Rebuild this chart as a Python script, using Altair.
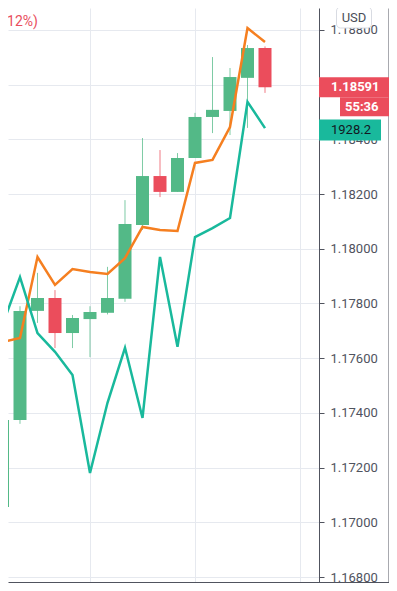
import altair as alt
import pandas as pd

# ---- data ----
bar_index = list(range(16))
opens  = [1.17056, 1.17374, 1.17773, 1.17820, 1.17692, 1.17743, 1.17766, 1.17817,
          1.18087, 1.18266, 1.18208, 1.18332, 1.18482, 1.18504, 1.18625, 1.18734]
closes = [1.17374, 1.17773, 1.17820, 1.17692, 1.17747, 1.17769, 1.17820, 1.18091,
          1.18266, 1.18208, 1.18332, 1.18482, 1.18508, 1.18628, 1.18734, 1.18591]
highs  = [1.17418, 1.17790, 1.17912, 1.17849, 1.17758, 1.17790, 1.17934, 1.18178,
          1.18405, 1.18361, 1.18350, 1.18497, 1.18701, 1.18661, 1.18745, 1.18740]
lows   = [1.17030, 1.17360, 1.17729, 1.17637, 1.17637, 1.17604, 1.17760, 1.17806,
          1.18069, 1.18189, 1.18208, 1.18332, 1.18423, 1.18416, 1.18442, 1.18570]
orange_series = [1.17659, 1.17674, 1.17970, 1.17868, 1.17926, 1.17915, 1.17908, 1.17966,
                 1.18080, 1.18069, 1.18065, 1.18314, 1.18325, 1.18445, 1.18807, 1.18756]
gold_series = [1889.2, 1898.7, 1887.6, 1883.9, 1879.3, 1859.9, 1873.8, 1884.7,
               1870.8, 1902.7, 1884.9, 1906.6, 1908.4, 1910.4, 1933.4, 1928.2]

price_ticks = [1.168, 1.170, 1.172, 1.174, 1.176, 1.178, 1.180, 1.182, 1.184, 1.186, 1.188]
gold_ticks = [1840, 1850, 1860, 1870, 1880, 1890, 1900, 1910, 1920, 1930, 1940, 1950]
time_ticks = [5, 11, 17]

last_price_text = "1.18591"
countdown_text = "55:36"
gold_text = "1928.2"
change_text = "(\u22120.12%)"
currency_text = "USD"

# ---- styling ----
GREEN = "#53b987"
RED = "#eb4d5c"
ORANGE = "#f57f20"
TEAL = "#19b99c"
AX = "#50535e"
GRID = "#e6e9ef"
FONT = "Roboto"

X_DOMAIN = [0.3143, 18.0857]
P_DOMAIN = [1.1678172, 1.188804]
G_DOMAIN = [1838.32, 1951.98]

df = pd.DataFrame({
    "i": bar_index, "open": opens, "close": closes, "high": highs, "low": lows,
    "orange": orange_series, "gold": gold_series,
})
df["dir"] = ["up" if c >= o else "down" for o, c in zip(opens, closes)]

xscale = alt.Scale(domain=X_DOMAIN, nice=False, zero=False, padding=0)
xaxis = alt.Axis(orient="bottom", values=time_ticks, title=None, labels=False,
                 tickSize=5, tickColor=AX, domainColor=AX, grid=True, gridColor=GRID)
pscale = alt.Scale(domain=P_DOMAIN, nice=False, zero=False, padding=0)
paxis = alt.Axis(orient="right", values=price_ticks, format=".5f", title=None,
                 tickSize=5, tickColor=AX, domainColor=AX, labelPadding=6,
                 labelColor=AX, labelFont=FONT, labelFontSize=13,
                 grid=True, gridColor=GRID)
gscale = alt.Scale(domain=G_DOMAIN, nice=False, zero=False, padding=0)
gaxis = alt.Axis(orient="right", offset=69.5, values=gold_ticks, title=None, labels=False,
                 tickSize=7, tickColor=AX, domainColor=AX, grid=False)

def X(field="i:Q"):
    return alt.X(field, scale=xscale, axis=xaxis)

def PY(field):
    return alt.Y(field, type="quantitative", scale=pscale, axis=paxis)

color = alt.Color("dir:N", scale=alt.Scale(domain=["up", "down"], range=[GREEN, RED]), legend=None)

base = alt.Chart(df)
wicks = base.mark_rule(strokeWidth=1, opacity=0.75, clip=True).encode(
    x=X(), y=PY("high"), y2="low", color=color)
bodies = base.mark_bar(size=13, clip=True).encode(
    x=X(), y=PY("open"), y2="close", color=color)
orange_line = base.mark_line(color=ORANGE, strokeWidth=2.5, clip=True).encode(
    x=X(), y=PY("orange"))

lbl = pd.DataFrame({"price": [closes[-1]], "txt": [last_price_text], "cd": [countdown_text]})
lbl_base = alt.Chart(lbl)
price_box = lbl_base.mark_tick(orient="horizontal", size=70, thickness=20, color=RED,
                               opacity=1, clip=False).encode(x=alt.value(346), y=PY("price"))
price_txt = lbl_base.mark_text(align="left", baseline="middle", color="white", font=FONT,
                               fontSize=13, fontWeight="bold").encode(
    x=alt.value(323), y=PY("price"), text="txt:N")
cd_box = lbl_base.mark_tick(orient="horizontal", size=49, thickness=19, color=RED,
                            opacity=1, yOffset=19.5, clip=False).encode(x=alt.value(356.5), y=PY("price"))
cd_txt = lbl_base.mark_text(align="left", baseline="middle", color="white", font=FONT,
                            fontSize=13, fontWeight="bold", yOffset=19.5).encode(
    x=alt.value(337), y=PY("price"), text="cd:N")

misc = pd.DataFrame({"change": [change_text], "cur": [currency_text]})
misc_base = alt.Chart(misc)
change = misc_base.mark_text(align="right", baseline="middle", color="#e94e5e", font=FONT,
                             fontSize=14).encode(x=alt.value(30), y=alt.value(14), text="change:N")
usd_box = misc_base.mark_rect(cornerRadius=4, fill="white", stroke="#d8dbe2", strokeWidth=1,
                              clip=False).encode(
    x=alt.value(328.5), x2=alt.value(363.5), y=alt.value(-1), y2=alt.value(20))
usd_txt = misc_base.mark_text(align="center", baseline="middle", color="#4a4d57", font=FONT,
                              fontSize=13).encode(x=alt.value(346), y=alt.value(10), text="cur:N")
ext_h = misc_base.mark_rule(color=AX, strokeWidth=1).encode(
    x=alt.value(311), x2=alt.value(381), y=alt.value(574.5))

main = alt.layer(wicks, bodies, orange_line, price_box, price_txt, cd_box, cd_txt,
                 change, usd_box, usd_txt, ext_h)

glbl = pd.DataFrame({"gold": [gold_series[-1]], "txt": [gold_text]})
teal_line = base.mark_line(color=TEAL, strokeWidth=2.5, clip=True).encode(
    x=X(), y=alt.Y("gold:Q", scale=gscale, axis=gaxis))
teal_box = alt.Chart(glbl).mark_tick(orient="horizontal", size=62, thickness=21, color=TEAL,
                                     opacity=1, yOffset=2, clip=False).encode(
    x=alt.value(342), y=alt.Y("gold:Q", scale=gscale, axis=gaxis))
teal_txt = alt.Chart(glbl).mark_text(align="left", baseline="middle", color="#131722", font=FONT,
                                     fontSize=13, yOffset=2).encode(
    x=alt.value(323), y=alt.Y("gold:Q", scale=gscale, axis=gaxis), text="txt:N")
gold = alt.layer(teal_line, teal_box, teal_txt)

chart = alt.layer(main, gold).resolve_scale(y="independent").properties(
    width=311, height=574,
    autosize=alt.AutoSizeParams(type="none"),
    padding={"left": 0, "top": 0, "right": 70, "bottom": 1},
).configure_view(stroke=None)

chart.save("out.html", embed_options={"renderer": "svg", "actions": False})
